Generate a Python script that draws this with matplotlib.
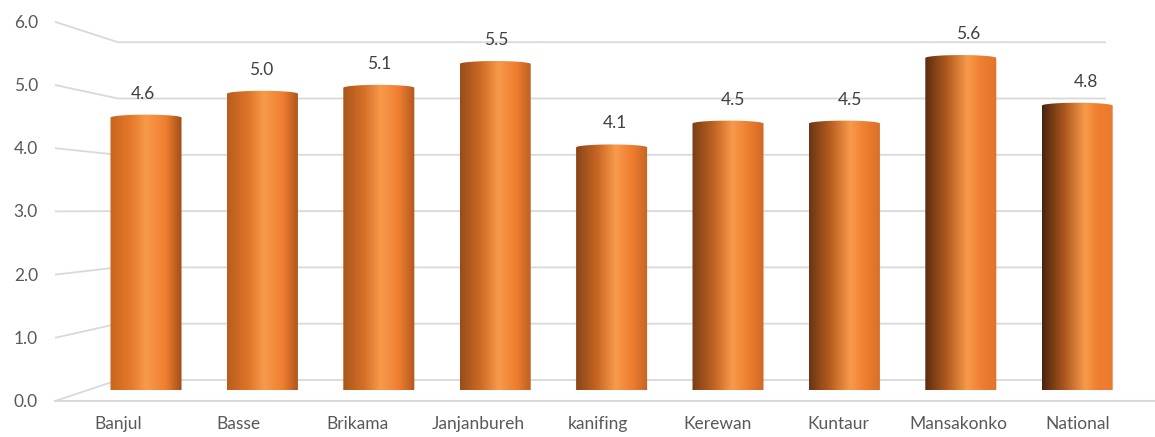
import numpy as np
import matplotlib
matplotlib.use("Agg")
import matplotlib.pyplot as plt
from matplotlib.path import Path
from matplotlib.patches import PathPatch
from matplotlib.colors import to_rgb

# data
regions = ["Banjul", "Basse", "Brikama", "Janjanbureh", "kanifing",
           "Kerewan", "Kuntaur", "Mansakonko", "National"]
values = [4.6, 5.0, 5.1, 5.5, 4.1, 4.5, 4.5, 5.6, 4.8]
yticks = [0.0, 1.0, 2.0, 3.0, 4.0, 5.0, 6.0]

plt.rcParams["font.family"] = ["Lato", "DejaVu Sans"]

W, H = 1155, 437
fig = plt.figure(figsize=(W / 100, H / 100), dpi=100)

# background: perspective wall + floor gridlines, drawn in pixel space
bg = fig.add_axes([0, 0, 1, 1])
bg.set_xlim(0, W)
bg.set_ylim(H, 0)
bg.axis("off")
grid_c = "#d9d9d9"
for v in yticks:
    fy = 401 - 63.2 * v
    by = 380 - 56.3 * v
    bg.plot([55, 118, 1106], [fy, by, by], color=grid_c, lw=1.3, solid_capstyle="butt")
    bg.text(38, fy + 1, f"{v:.1f}", ha="right", va="center", fontsize=12.5, color="#595959")
bg.plot([55, W], [401, 401], color=grid_c, lw=1.5)

# bars
ax = fig.add_axes([87.8 / W, 47 / H, 1047.6 / W, 387.4 / H])
ax.patch.set_alpha(0)
ax.axis("off")
x = np.arange(len(regions))
bar_w = 0.61
bars = ax.bar(x, values, width=bar_w, color="none")


def mix(c1, c2, f):
    a, b = np.array(to_rgb(c1)), np.array(to_rgb(c2))
    return a * (1 - f) + b * f


n = len(regions)
for i, (rect, v) in enumerate(zip(bars, values)):
    f = i / (n - 1)
    x0 = rect.get_x()
    x1 = x0 + rect.get_width()
    xc = (x0 + x1) / 2
    a = rect.get_width() / 2
    b_bot = 0.07
    b_top = 0.05
    t = np.linspace(0, np.pi, 40)
    bottom = np.column_stack([xc - a * np.cos(t), -b_bot * np.sin(t)])
    top = np.column_stack([xc + a * np.cos(t), v - 0.03 + b_top * np.sin(t)])
    verts = np.vstack([[x0, v - 0.03], bottom, top, [x0, v - 0.03]])
    codes = [Path.MOVETO] + [Path.LINETO] * (len(verts) - 2) + [Path.CLOSEPOLY]
    clip = PathPatch(Path(verts, codes), facecolor="none", edgecolor="none",
                     transform=ax.transData)
    ax.add_patch(clip)

    # cylinder shading, darker on the left as the bars move right
    stops = [0.0, 0.3, 0.5 + 0.1 * f, 0.78, 1.0]
    cols = np.array([mix("#c8651f", "#4a250e", f),
                     mix("#e67a2c", "#a9541c", f),
                     to_rgb("#f89a4b"),
                     to_rgb("#ef7e30"),
                     mix("#a04d18", "#e97a2e", f)])
    tt = np.linspace(0, 1, 256)
    grad = np.stack([np.interp(tt, stops, cols[:, k]) for k in range(3)], axis=-1)
    im = ax.imshow(grad[np.newaxis, :, :], extent=(x0, x1, -b_bot, v + b_top),
                   aspect="auto", interpolation="bilinear", zorder=2)
    im.set_clip_path(clip)

    dx = -3 + 12 * f
    ax.annotate(f"{v:.1f}", (xc, v), xytext=(dx * 0.72, 16), textcoords="offset points",
                ha="center", va="center", fontsize=12.5, color="#404040")

ax.set_xlim(-0.5, 8.5)
ax.set_ylim(0, 6.5)

# category labels along the front edge of the floor
for i, name in enumerate(regions):
    bg.text(118 + 120 * i, 424, name, ha="center", va="center", fontsize=12.5, color="#595959")

fig.savefig("out.png", dpi=100)
